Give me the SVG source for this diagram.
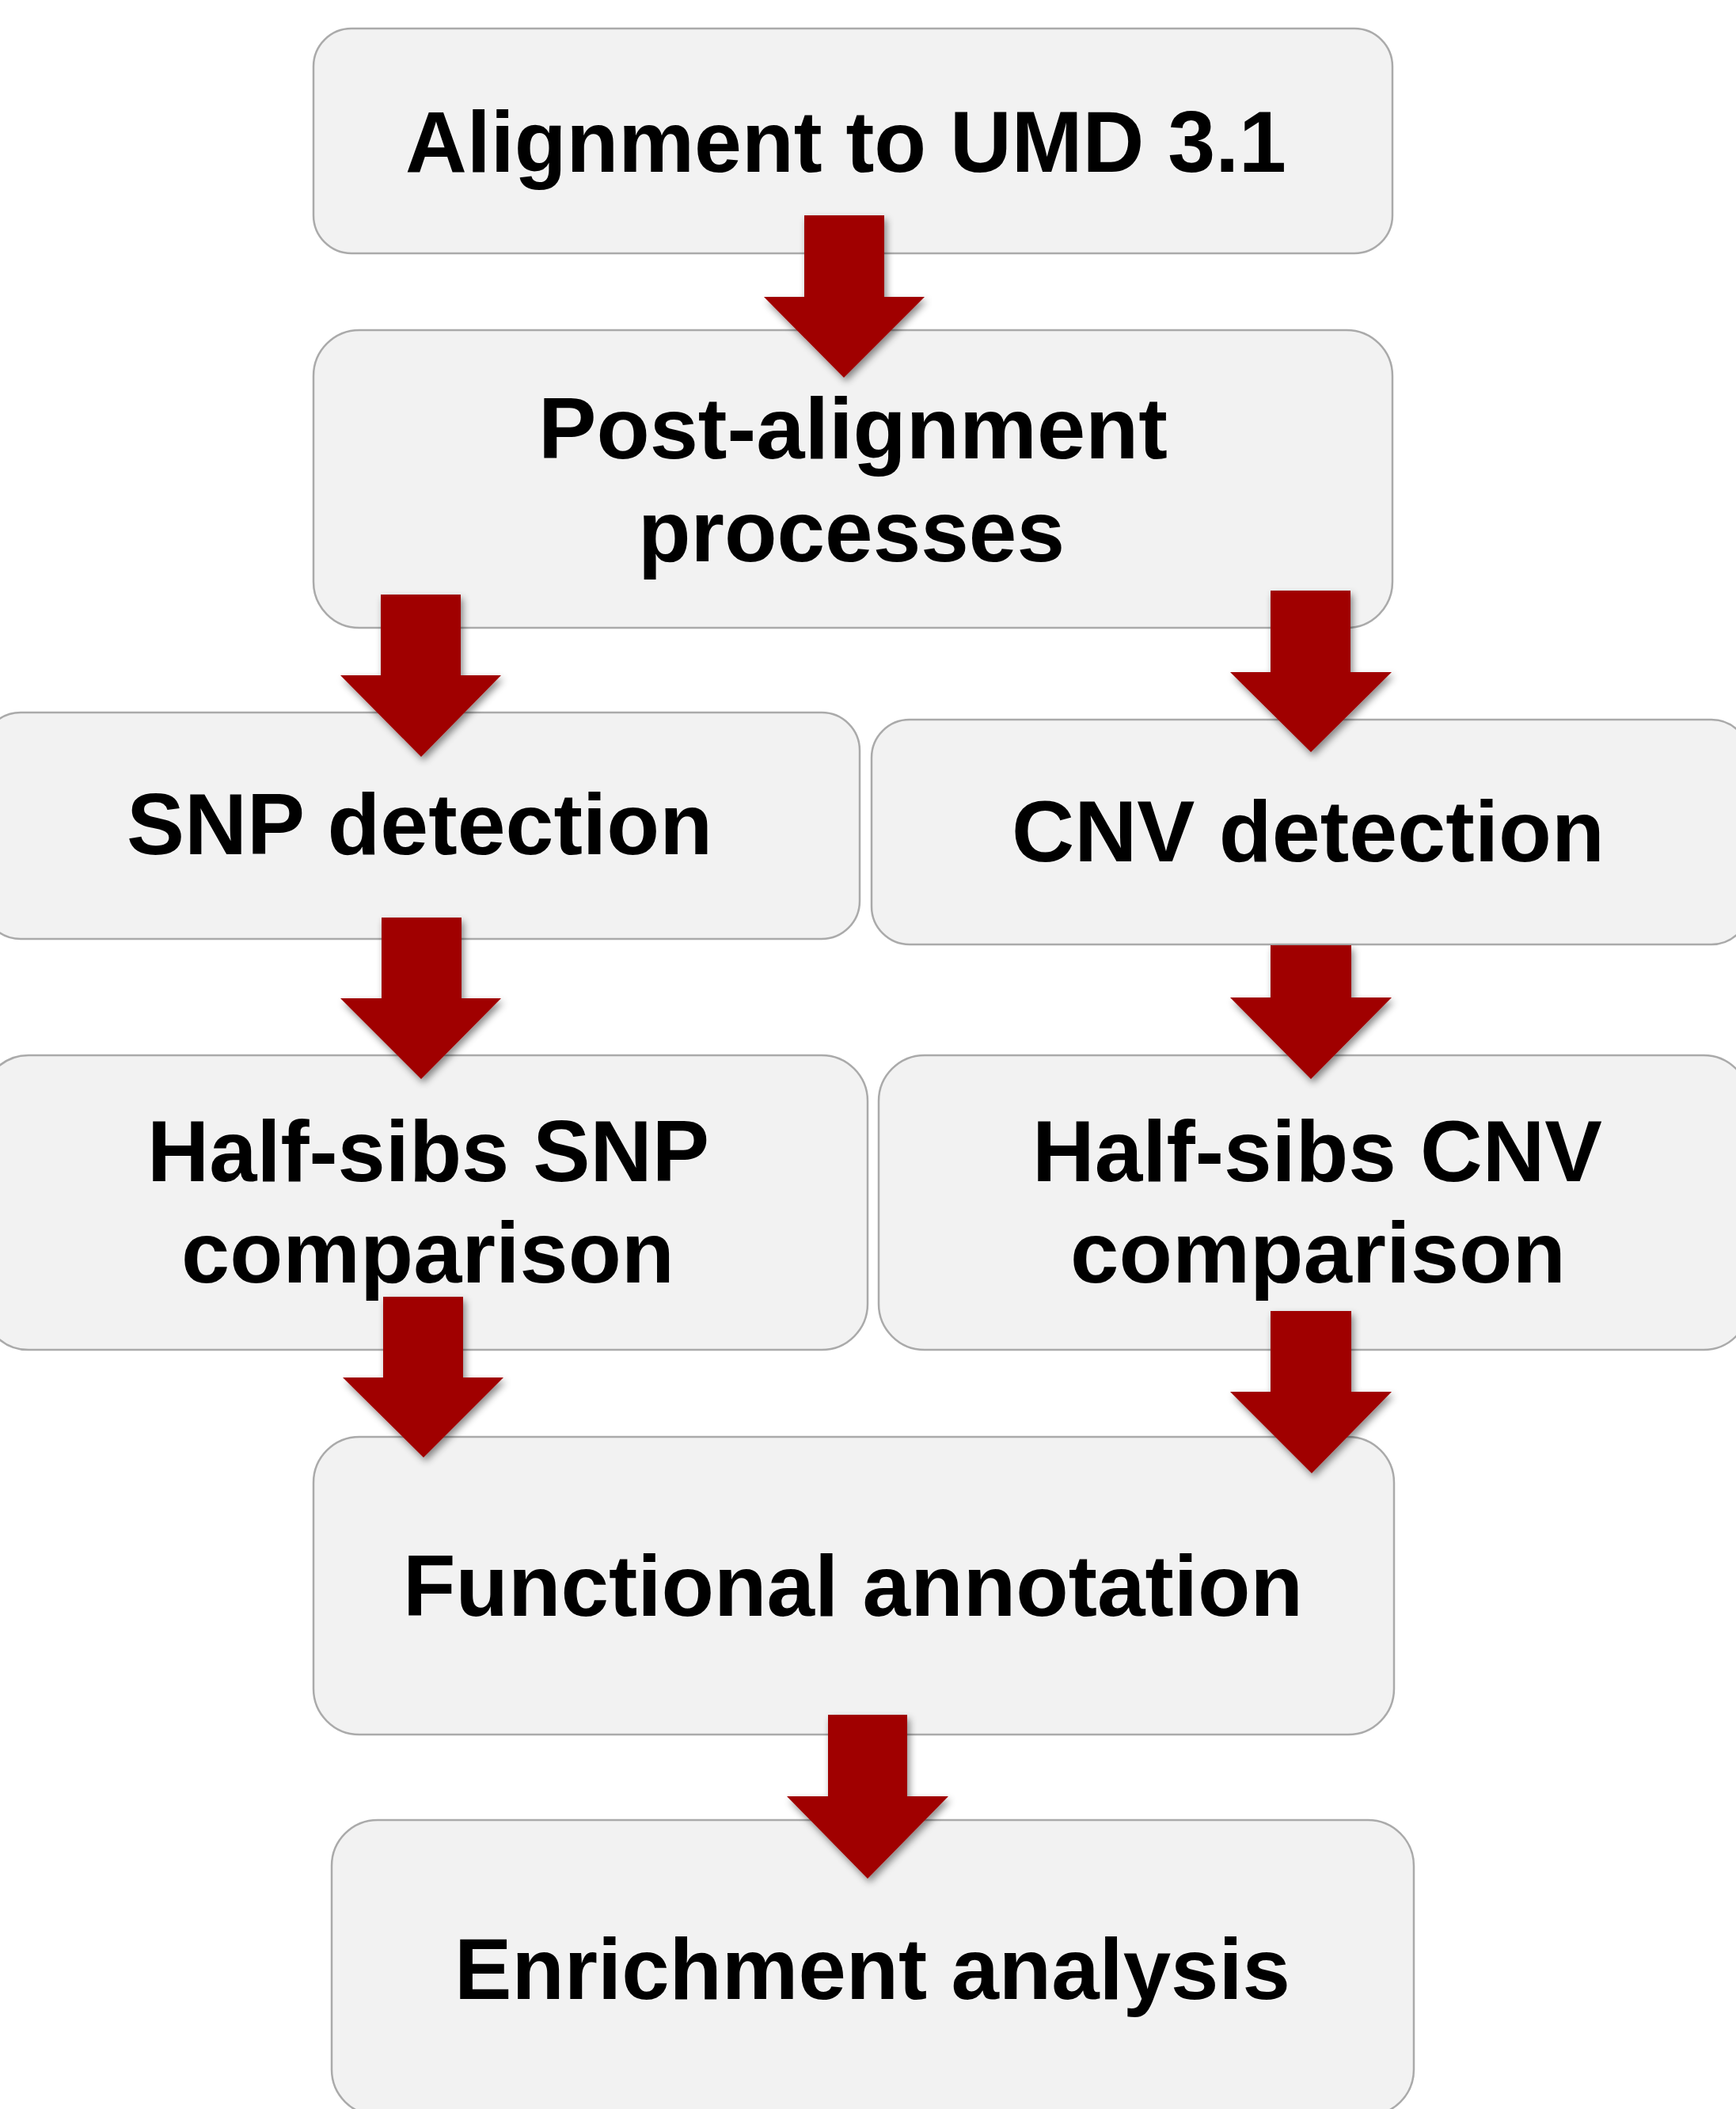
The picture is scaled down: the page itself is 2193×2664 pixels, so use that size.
<svg xmlns="http://www.w3.org/2000/svg" width="2193" height="2664" viewBox="0 0 2193 2664">
<style>
.box{fill:#f2f2f2;stroke:#aaaaaa;stroke-width:2.5}
.lbl{font-family:"Liberation Sans",Arial,sans-serif;font-weight:bold;font-size:110px;fill:#000}
.arr{fill:#a00000;filter:url(#sh)}
</style>
<defs>
<filter id="sh" x="-30%" y="-30%" width="160%" height="160%">
<feDropShadow dx="3" dy="5" stdDeviation="5" flood-color="#000" flood-opacity="0.45"/>
</filter>
</defs>
<rect width="2193" height="2664" fill="#ffffff"/>
<g id="n-align"><rect class="box" x="396" y="36" width="1363" height="284" rx="48"/>
<text class="lbl" x="512" y="217" textLength="1113" lengthAdjust="spacingAndGlyphs">Alignment to UMD 3.1</text></g>
<g id="n-post"><rect class="box" x="396" y="417" width="1363" height="376" rx="58"/>
<text class="lbl" x="680" y="579" textLength="795" lengthAdjust="spacingAndGlyphs">Post-alignment</text>
<text class="lbl" x="806" y="709" textLength="539" lengthAdjust="spacingAndGlyphs">processes</text></g>
<g id="n-snp"><rect class="box" x="-22" y="900" width="1108" height="286" rx="48"/>
<text class="lbl" x="160" y="1079" textLength="740" lengthAdjust="spacingAndGlyphs">SNP detection</text></g>
<g id="n-cnv"><rect class="box" x="1101" y="909" width="1109" height="284" rx="48"/>
<text class="lbl" x="1278" y="1088" textLength="749" lengthAdjust="spacingAndGlyphs">CNV detection</text></g>
<g id="n-hsnp"><rect class="box" x="-22" y="1333" width="1118" height="372" rx="58"/>
<text class="lbl" x="186" y="1492" textLength="710" lengthAdjust="spacingAndGlyphs">Half-sibs SNP</text>
<text class="lbl" x="229" y="1620" textLength="623" lengthAdjust="spacingAndGlyphs">comparison</text></g>
<g id="n-hcnv"><rect class="box" x="1110" y="1333" width="1100" height="372" rx="58"/>
<text class="lbl" x="1304" y="1492" textLength="720" lengthAdjust="spacingAndGlyphs">Half-sibs CNV</text>
<text class="lbl" x="1352" y="1620" textLength="626" lengthAdjust="spacingAndGlyphs">comparison</text></g>
<g id="n-func"><rect class="box" x="396" y="1815" width="1365" height="376" rx="58"/>
<text class="lbl" x="509" y="2041" textLength="1137" lengthAdjust="spacingAndGlyphs">Functional annotation</text></g>
<g id="n-enrich"><rect class="box" x="419" y="2299" width="1367" height="373" rx="58"/>
<text class="lbl" x="574" y="2525" textLength="1056" lengthAdjust="spacingAndGlyphs">Enrichment analysis</text></g>
<g id="connectors">
<polygon class="arr" points="1016,272 1117,272 1117,375 1168,375 1066,477 965,375 1016,375"/>
<polygon class="arr" points="481,751 582,751 582,853 633,853 532,956 430,853 481,853"/>
<polygon class="arr" points="1605,746 1706,746 1706,849 1758,849 1656,950 1554,849 1605,849"/>
<polygon class="arr" points="482,1159 583,1159 583,1261 633,1261 532,1363 430,1261 482,1261"/>
<polygon class="arr" points="1605,1194 1707,1194 1707,1260 1758,1260 1656,1363 1554,1260 1605,1260"/>
<polygon class="arr" points="484,1638 585,1638 585,1740 636,1740 535,1841 433,1740 484,1740"/>
<polygon class="arr" points="1605,1656 1707,1656 1707,1758 1758,1758 1657,1861 1554,1758 1605,1758"/>
<polygon class="arr" points="1046,2166 1146,2166 1146,2269 1198,2269 1096,2373 994,2269 1046,2269"/>
</g>
</svg>
